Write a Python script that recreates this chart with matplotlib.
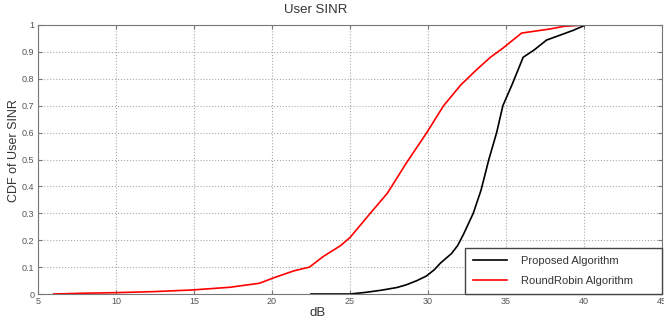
import matplotlib
matplotlib.use("Agg")
import matplotlib.pyplot as plt

plt.rcParams['font.family'] = ['Liberation Sans', 'DejaVu Sans']

# Proposed algorithm CDF
prop_db = [22.5, 25.0, 26.0, 27.0, 28.0, 28.6, 29.3, 29.9, 30.4, 30.8, 31.5, 31.9, 32.3,
           32.9, 33.4, 33.9, 34.4, 34.8, 35.4, 36.1, 36.8, 37.6, 38.5, 39.3, 40.1]
prop_cdf = [0.0, 0.0, 0.006, 0.014, 0.024, 0.034, 0.05, 0.067, 0.09, 0.115, 0.15, 0.18, 0.225,
            0.30, 0.386, 0.50, 0.60, 0.70, 0.78, 0.88, 0.907, 0.944, 0.963, 0.98, 1.0]

# RoundRobin algorithm CDF
rr_db = [6.0, 8.0, 10.0, 12.5, 14.9, 17.3, 19.2, 20.1, 21.4, 22.4, 23.3, 24.4, 25.0,
         26.3, 27.4, 28.6, 29.9, 31.0, 32.1, 33.1, 34.0, 34.8, 36.0, 37.8, 38.7, 40.0]
rr_cdf = [0.0, 0.003, 0.005, 0.009, 0.015, 0.025, 0.04, 0.06, 0.086, 0.10, 0.14, 0.18, 0.21,
          0.30, 0.375, 0.486, 0.598, 0.70, 0.777, 0.833, 0.88, 0.914, 0.97, 0.985, 0.995, 1.0]

fig = plt.figure(figsize=(6.64, 3.26), dpi=100)
ax = fig.add_axes([38/664, 1-294/326, 624/664, 269/326])

ax.plot(prop_db, prop_cdf, color='black', lw=1.2, label='Proposed Algorithm')
ax.plot(rr_db, rr_cdf, color='red', lw=1.2, label='RoundRobin Algorithm')

ax.set_xlim(5, 45)
ax.set_ylim(0, 1)
ax.set_xticks(range(5, 46, 5))
ax.set_yticks([i/10 for i in range(11)])
ax.set_yticklabels(['0', '0.1', '0.2', '0.3', '0.4', '0.5', '0.6', '0.7', '0.8', '0.9', '1'])
ax.tick_params(direction='in', length=3, labelsize=6.5, labelcolor='#555555', color='#777777',
               top=True, right=True, pad=2.5)
for s in ax.spines.values():
    s.set_color('#777777')
ax.grid(True, linestyle=':', color='#aaaaaa', lw=0.8)

ax.set_xlabel('dB', fontsize=9.5, color='#333333')
ax.xaxis.set_label_coords((318-38)/624, -0.05, transform=ax.transAxes)
ax.xaxis.label.set_va('top')
ax.set_ylabel('CDF of User SINR', fontsize=9, color='#333333')
ax.yaxis.set_label_coords((20-38)/624, (294-150.5)/269)

fig.text(316/664, 1-10/326, 'User SINR', ha='center', va='center', fontsize=9.5, color='#333333')

ax.legend(loc='lower left', bbox_to_anchor=((465-38)/624, 0, (662-465)/624, 0.2),
          mode='expand', borderaxespad=0, fontsize=8, handlelength=3, handletextpad=1.3,
          labelspacing=0.85, borderpad=0.75, fancybox=False, framealpha=1,
          edgecolor='#444444', labelcolor='#333333')

fig.savefig('out.png', dpi=100)
